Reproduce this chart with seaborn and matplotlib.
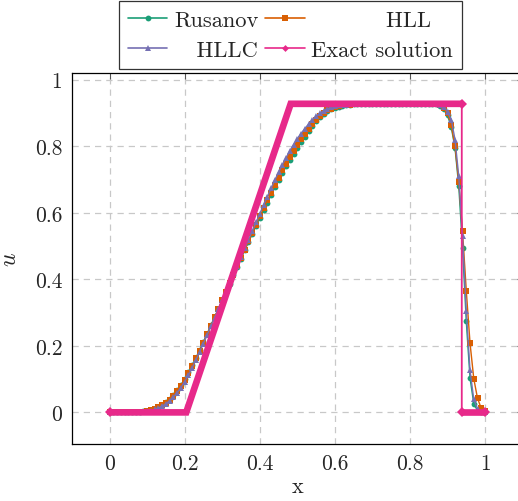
import numpy as np
import pandas as pd
import matplotlib
matplotlib.use("Agg")
import matplotlib.pyplot as plt
from matplotlib.lines import Line2D
import seaborn as sns

# ---------------- data ----------------
x_grid = np.round(np.linspace(0.0, 1.0, 101), 2)

u_rusanov = ([0.0] * 8 +
    [0.001, 0.003, 0.005, 0.007, 0.011, 0.016, 0.022, 0.030, 0.040, 0.052,
     0.066, 0.082, 0.100, 0.120, 0.142, 0.164, 0.188, 0.212, 0.237, 0.262,
     0.287, 0.312, 0.337, 0.362, 0.387, 0.412, 0.437, 0.462, 0.487, 0.512,
     0.536, 0.560, 0.584, 0.607, 0.630, 0.653, 0.676, 0.697, 0.718, 0.739,
     0.758, 0.777, 0.794, 0.812, 0.829, 0.846, 0.861, 0.875, 0.887, 0.897,
     0.905, 0.911, 0.916, 0.919, 0.922, 0.924, 0.925, 0.926] +
    [0.927] * 21 +
    [0.926, 0.922, 0.912, 0.893, 0.857, 0.795, 0.680, 0.495, 0.274, 0.103,
     0.026, 0.005, 0.001, 0.000])

u_hll = ([0.0] * 8 +
    [0.001, 0.002, 0.004, 0.006, 0.010, 0.015, 0.021, 0.029, 0.038, 0.050,
     0.063, 0.079, 0.097, 0.117, 0.139, 0.162, 0.186, 0.210, 0.235, 0.261,
     0.286, 0.312, 0.337, 0.362, 0.388, 0.413, 0.439, 0.464, 0.489, 0.514,
     0.539, 0.564, 0.589, 0.613, 0.637, 0.660, 0.684, 0.705, 0.727, 0.748,
     0.768, 0.787, 0.804, 0.821, 0.838, 0.853, 0.867, 0.880, 0.891, 0.900,
     0.908, 0.913, 0.917, 0.920, 0.923, 0.924, 0.925, 0.926] +
    [0.927] * 21 +
    [0.926, 0.923, 0.915, 0.900, 0.863, 0.800, 0.693, 0.545, 0.366, 0.208,
     0.101, 0.042, 0.012, 0.003])

u_hllc = ([0.0] * 8 +
    [0.000, 0.001, 0.003, 0.005, 0.009, 0.013, 0.019, 0.026, 0.035, 0.046,
     0.059, 0.074, 0.092, 0.112, 0.134, 0.158, 0.182, 0.207, 0.233, 0.259,
     0.285, 0.311, 0.337, 0.363, 0.389, 0.415, 0.441, 0.467, 0.493, 0.519,
     0.545, 0.571, 0.597, 0.623, 0.648, 0.673, 0.698, 0.721, 0.744, 0.765,
     0.786, 0.805, 0.822, 0.838, 0.853, 0.866, 0.879, 0.890, 0.899, 0.906,
     0.912, 0.917, 0.920, 0.923, 0.924, 0.925, 0.926, 0.927] +
    [0.927] * 21 +
    [0.927, 0.924, 0.917, 0.903, 0.880, 0.820, 0.710, 0.530, 0.304, 0.126,
     0.039, 0.010, 0.002, 0.000])

# exact solution breakpoints
exact_x = [0.0, 0.2042, 0.4824, 0.938, 0.938, 1.0]
exact_u = [0.0, 0.0, 0.9274, 0.9274, 0.0, 0.0]

labels = ["Rusanov", "HLL", "HLLC", "Exact solution"]
x_ticks = [0, 0.2, 0.4, 0.6, 0.8, 1]
y_ticks = [0, 0.2, 0.4, 0.6, 0.8, 1]
tick_labels = ["0", "0.2", "0.4", "0.6", "0.8", "1"]

# ---------------- style ----------------
sns.set_style("white")
plt.rcParams["font.family"] = ["cmr10", "DejaVu Serif"]
plt.rcParams["mathtext.fontset"] = "cm"
plt.rcParams["axes.formatter.use_mathtext"] = True

pal = sns.color_palette("Dark2", 4)
c_rus, c_hll, c_hllc, c_ex = pal[0], pal[1], "#7570b3", "#e7298a"

fig = plt.figure(figsize=(5.18, 5.02), dpi=100)
ax = fig.add_axes([72 / 518, 57 / 502, 450.6 / 518, 371 / 502])

df = pd.DataFrame({
    "x": np.concatenate([x_grid] * 3),
    "u": np.concatenate([u_rusanov, u_hll, u_hllc]),
    "method": ["Rusanov"] * 101 + ["HLL"] * 101 + ["HLLC"] * 101,
})

specs = [("Rusanov", c_rus, "o", 4.2), ("HLL", c_hll, "s", 4.0), ("HLLC", c_hllc, "^", 4.4)]
for name, col, mk, ms in specs:
    sub = df[df["method"] == name]
    sns.lineplot(data=sub, x="x", y="u", ax=ax, color=col, linewidth=1.0,
                 marker=mk, markersize=ms, markeredgewidth=0.0,
                 sort=False, estimator=None, legend=False, zorder=3)

ex = pd.DataFrame({"x": exact_x, "u": exact_u})
# thin connecting line (incl. shock jump)
sns.lineplot(data=ex, x="x", y="u", ax=ax, color=c_ex, linewidth=1.3,
             sort=False, estimator=None, legend=False, zorder=4)
# dense-marker band on the smooth parts
sns.lineplot(data=ex.iloc[:4], x="x", y="u", ax=ax, color=c_ex, linewidth=4.8,
             sort=False, estimator=None, legend=False, zorder=4,
             solid_joinstyle="miter", solid_capstyle="butt")
sns.lineplot(data=ex.iloc[4:], x="x", y="u", ax=ax, color=c_ex, linewidth=4.8,
             sort=False, estimator=None, legend=False, zorder=4,
             solid_capstyle="butt")
ax.plot([exact_x[0], exact_x[3], exact_x[4], exact_x[5]],
        [exact_u[0], exact_u[3], exact_u[4], exact_u[5]],
        linestyle="none", marker="D", markersize=5.5, color=c_ex,
        markeredgewidth=0, zorder=5)

ax.set_xlim(-0.1, 1.1)
ax.set_ylim(-0.095, 1.02)
ax.set_xticks(x_ticks)
ax.set_yticks(y_ticks)
ax.set_xticklabels(tick_labels)
ax.set_yticklabels(tick_labels)
ax.tick_params(direction="in", length=4, width=0.8, color="#555555",
               top=True, right=True, labelsize=15.5, pad=7)
ax.grid(True, color="#c8c8c8", linestyle=(0, (5, 4)), linewidth=0.9)
for s in ax.spines.values():
    s.set_color("black")
    s.set_linewidth(0.9)
ax.set_xlabel("x", fontsize=16, labelpad=2)
ax.set_ylabel("$u$", fontsize=17, labelpad=10)

h_rus = Line2D([], [], color=c_rus, marker="o", markersize=4.2, lw=1.2, markeredgewidth=0)
h_hll = Line2D([], [], color=c_hll, marker="s", markersize=4.0, lw=1.2, markeredgewidth=0)
h_hllc = Line2D([], [], color=c_hllc, marker="^", markersize=4.4, lw=1.2, markeredgewidth=0)
h_ex = Line2D([], [], color=c_ex, marker="D", markersize=3.5, lw=1.2, markeredgewidth=0)
# column-major fill -> rows: (Rusanov, HLL), (HLLC, Exact solution)
# leading spaces centre the short names within their columns, as in the reference
leg = fig.legend([h_rus, h_hllc, h_hll, h_ex],
                 [labels[0], "   " + labels[2], "          " + labels[1], labels[3]],
                 ncol=2, loc="upper center",
                 bbox_to_anchor=(290.5 / 518, 1 - 2 / 502), fontsize=16.2,
                 frameon=True, fancybox=False, edgecolor="black",
                 handlelength=1.75, handletextpad=0.3, columnspacing=0.3,
                 labelspacing=0.45, borderpad=0.4, borderaxespad=0.0)
leg.get_frame().set_linewidth(0.9)

fig.savefig("out.png", dpi=100)
